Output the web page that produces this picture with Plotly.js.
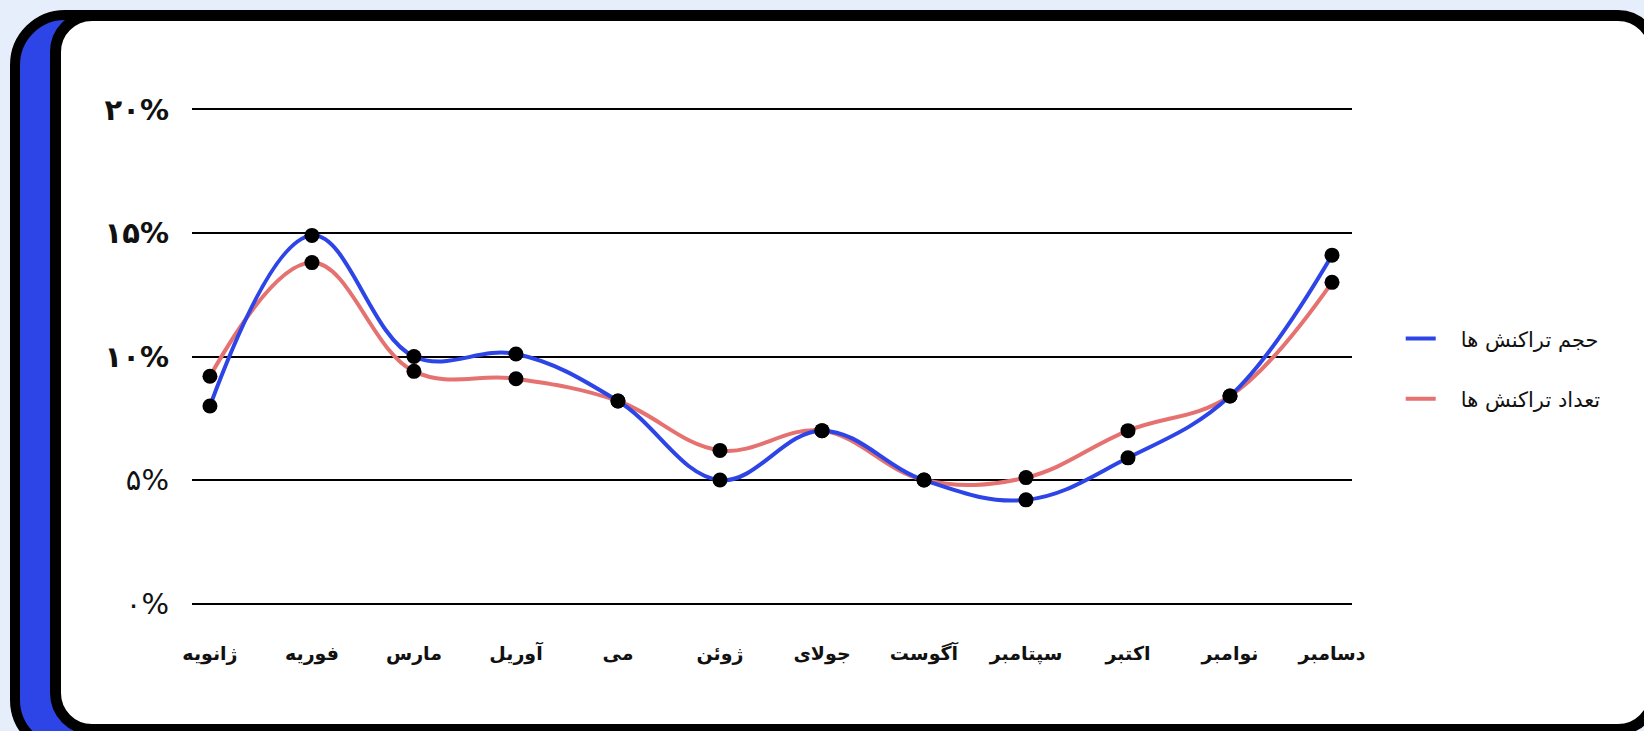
<!DOCTYPE html>
<html>
<head>
<meta charset="utf-8">
<script src="https://cdn.plot.ly/plotly-3.0.1.min.js"></script>
<style>
  html, body { margin: 0; padding: 0; width: 1644px; height: 731px; overflow: hidden; background: #E7EEFB; }
  .blue-card { position: absolute; left: 10px; top: 10px; width: 800px; height: 745px; box-sizing: border-box;
    background: #2D45E6; border: 10px solid #000; border-radius: 55px; }
  .white-card { position: absolute; left: 50px; top: 10px; width: 1610px; height: 725px; box-sizing: border-box;
    background: #fff; border: 11px solid #000; border-radius: 42px; }
  #chart { position: absolute; left: 0; top: 0; width: 1644px; height: 731px; }
</style>
</head>
<body>
<div class="blue-card"></div>
<div class="white-card"></div>
<div id="chart"></div>
<script>
const months = ['ژانویه','فوریه','مارس','آوریل','می','ژوئن','جولای','آگوست','سپتامبر','اکتبر','نوامبر','دسامبر'];
const volumeSeries = [8.0, 14.9, 10.0, 10.1, 8.2, 5.0, 7.0, 5.0, 4.2, 5.9, 8.4, 14.1];
const countSeries  = [9.2, 13.8, 9.4, 9.1, 8.2, 6.2, 7.0, 5.0, 5.1, 7.0, 8.4, 13.0];
const seriesNames = ['حجم تراکنش ها', 'تعداد تراکنش ها'];
const yTickVals = [0, 5, 10, 15, 20];
const yTickText = ['۰%', '۵%', '۱۰%', '۱۵%', '۲۰%'];

const persianFont = 'DejaVu Sans, Noto Sans, sans-serif';
const blue = '#2D45E6';
const red = '#E57170';
const legendPad = '\u00A0\u00A0\u00A0';

const lineTrace = (y, name, color, legend) => ({
  x: months, y: y, name: legendPad + name, type: 'scatter', mode: 'lines',
  line: { color: color, width: 4, shape: 'spline', smoothing: 1.1 },
  legend: legend, hoverinfo: 'skip'
});
const markerTrace = (y) => ({
  x: months, y: y, type: 'scatter', mode: 'markers', showlegend: false,
  marker: { color: '#000', size: 15 }, hoverinfo: 'skip'
});

const data = [
  lineTrace(countSeries, seriesNames[1], red, 'legend2'),
  lineTrace(volumeSeries, seriesNames[0], blue, 'legend'),
  markerTrace(countSeries),
  markerTrace(volumeSeries)
];

const yText = yTickText.map((t, i) => yTickVals[i] >= 10 ? '<b>' + t + '</b>' : t);

const legendStyle = (yPos) => ({
  x: 1.042, xanchor: 'left', y: yPos, yanchor: 'middle',
  font: { family: persianFont, size: 21, color: '#111' }, bgcolor: 'rgba(0,0,0,0)'
});

const layout = {
  width: 1644, height: 731,
  paper_bgcolor: 'rgba(0,0,0,0)', plot_bgcolor: 'rgba(0,0,0,0)',
  margin: { l: 192, r: 292, t: 97, b: 115 },
  font: { family: persianFont, color: '#111' },
  xaxis: {
    type: 'category', range: [-0.176, 11.196], showgrid: false, zeroline: false, showline: false,
    ticks: '', ticklabelstandoff: 24, fixedrange: true,
    tickfont: { family: persianFont, size: 19, color: '#111', weight: 'bold' }
  },
  yaxis: {
    range: [-0.5, 20.5], tickvals: yTickVals, ticktext: yText,
    showgrid: true, gridcolor: '#000', gridwidth: 2, zeroline: false, showline: false,
    ticks: '', ticklabelstandoff: 22, fixedrange: true,
    tickfont: { family: persianFont, size: 29, color: '#111' }
  },
  legend: legendStyle(0.534),
  legend2: legendStyle(0.418),
  showlegend: true
};

Plotly.newPlot('chart', data, layout, { displayModeBar: false, staticPlot: true });
</script>
</body>
</html>
